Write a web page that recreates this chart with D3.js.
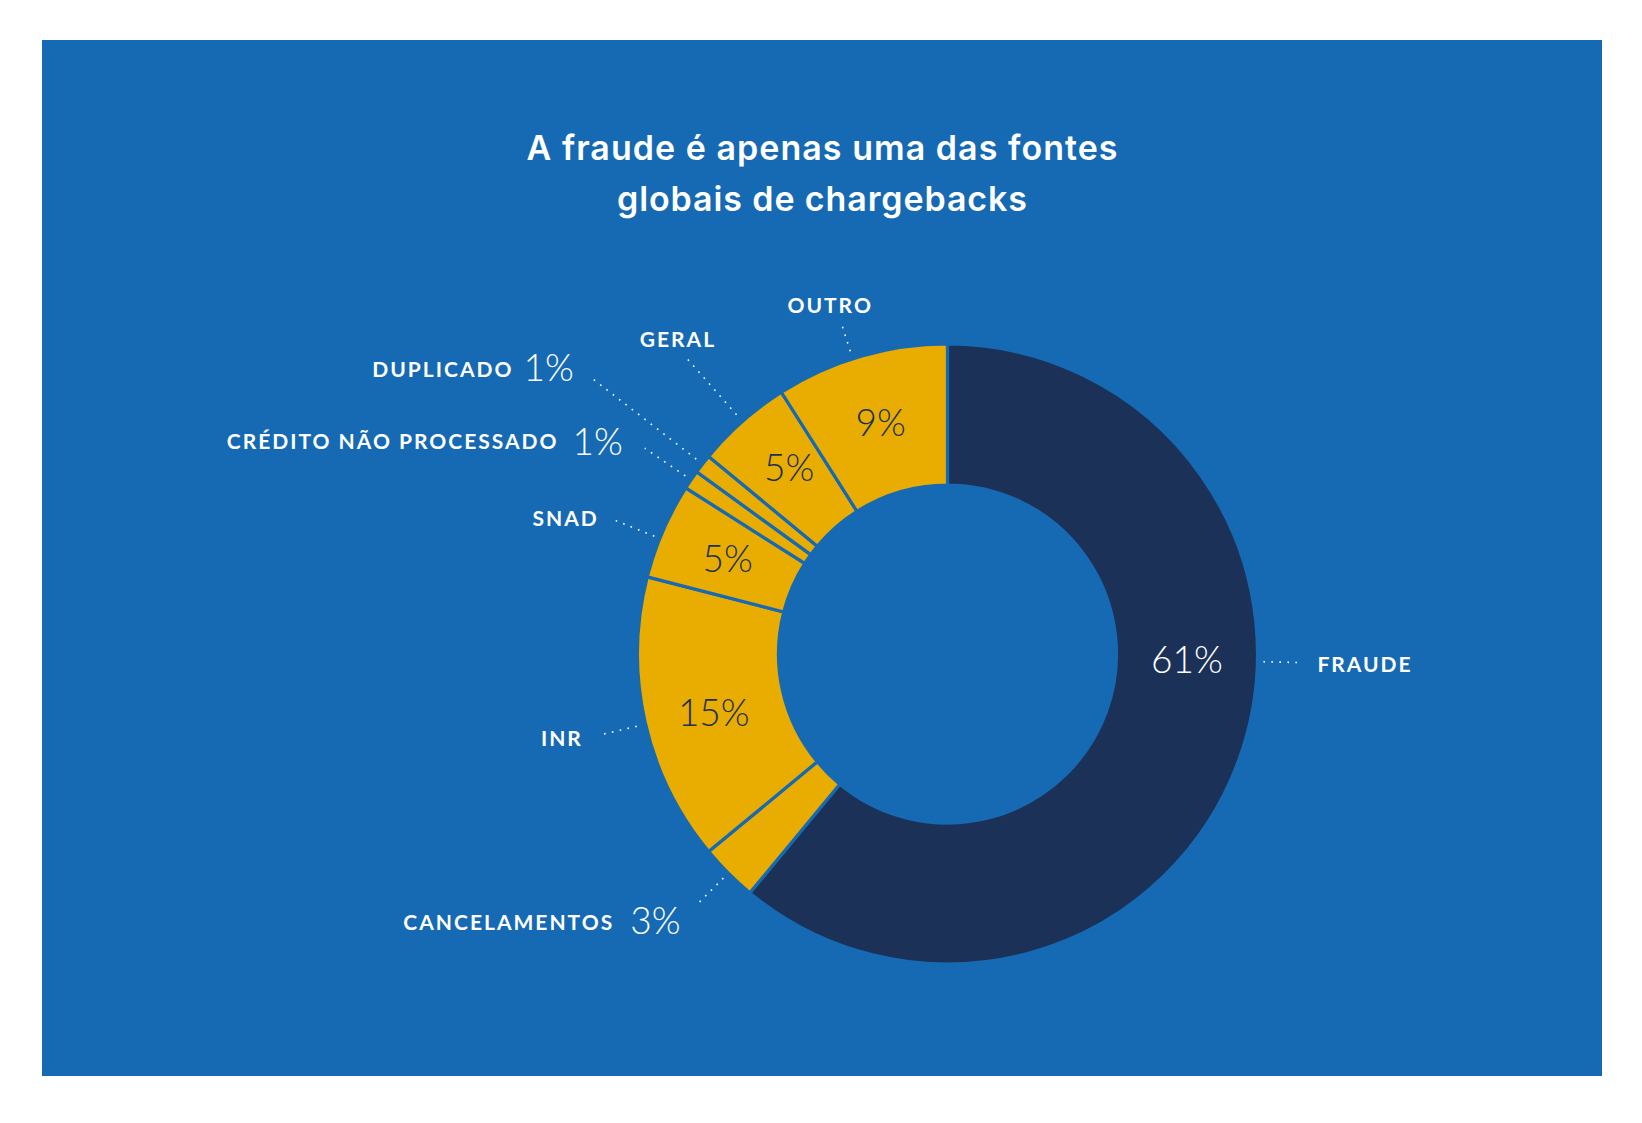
<!DOCTYPE html>
<html>
<head>
<meta charset="utf-8">
<script src="https://cdn.jsdelivr.net/npm/d3@7"></script>
<style>
  html, body { margin: 0; padding: 0; background: #ffffff; }
  svg { display: block; }
</style>
</head>
<body>
<svg id="chart" width="1642" height="1123"></svg>
<script>
// ---- data ----
const titleLines = ["A fraude é apenas uma das fontes", "globais de chargebacks"];
const categories = ["FRAUDE", "CANCELAMENTOS", "INR", "SNAD", "CRÉDITO NÃO PROCESSADO", "DUPLICADO", "GERAL", "OUTRO"];
const values = [61, 3, 15, 5, 1, 1, 5, 9];
const percentLabels = ["61%", "3%", "15%", "5%", "1%", "1%", "5%", "9%"];

// ---- style / layout ----
const W = 1642, H = 1123;
const BG = "#166AB3", NAVY = "#1B3157", YELLOW = "#E9AC00";
const cx = 947.5, cy = 654, R = 310, r = 169;
const titleWidths = [591, 410];
const sliceColor = i => i === 0 ? NAVY : YELLOW;
const deg = Math.PI / 180;
// label placement per slice: leader radii/angle shift, whether percent is inside, text offsets
const layout = [
  { angleShift: -18.4 * deg, numShift: -18.4 * deg, lead: [316, 355], inside: true, numColor: "#ffffff", anchor: "start", dx: 15, dy: 9 },
  { lead: [317, 355], inside: false, anchor: "end", dx: -16, dy: 29, labelDy: -4, gap: 18 },
  { angleShift: -0.5 * deg, lead: [319, 358], inside: true, numDy: 6, anchor: "end", dx: -18, dy: 11 },
  { angleShift: -1.5 * deg, lead: [316, 363], inside: true, anchor: "end", dx: -14, dy: 7 },
  { lead: [317, 366], inside: false, anchor: "end", dx: -22, dy: 7, labelDy: -6, gap: 16 },
  { lead: [318, 449], inside: false, anchor: "end", dx: -19, dy: 2, labelDy: -4, gap: 12 },
  { lead: [319, 394], inside: true, numDy: -7, anchor: "middle", dx: -9, dy: -11 },
  { angleShift: -1.6 * deg, lead: [318, 348], inside: true, numDy: -2, anchor: "middle", dx: -11, dy: -10 }
];

const svg = d3.select("#chart");
svg.append("rect").attr("x", 42).attr("y", 40).attr("width", 1560).attr("height", 1036).attr("fill", BG);

// title
svg.append("g").selectAll("text").data(titleLines).join("text")
  .attr("x", 822).attr("y", (d, i) => 160 + i * 51)
  .attr("text-anchor", "middle")
  .attr("fill", "#ffffff")
  .attr("font-family", "Inter, Lato, sans-serif")
  .attr("font-weight", 600)
  .attr("font-size", 34)
  .attr("textLength", (d, i) => titleWidths[i])
  .attr("lengthAdjust", "spacing")
  .text(d => d);

const pie = d3.pie().sort(null).value(d => d).startAngle(0).endAngle(2 * Math.PI);
const arcs = pie(values);
const arc = d3.arc().innerRadius(r).outerRadius(R);

const g = svg.append("g").attr("transform", `translate(${cx},${cy})`);
g.selectAll("path").data(arcs).join("path")
  .attr("d", arc)
  .attr("fill", (d, i) => sliceColor(i))
  .attr("stroke", BG)
  .attr("stroke-width", 3.2)
  .attr("stroke-linejoin", "miter");

const pt = (a, rad) => [rad * Math.sin(a), -rad * Math.cos(a)];
const mid = d => (d.startAngle + d.endAngle) / 2;

const pctFont = "Lato, 'Open Sans', sans-serif";
const labelSize = 21, labelSpacing = 2.0, numSize = 37;

arcs.forEach((d, i) => {
  const L = layout[i];
  const a = mid(d) + (L.angleShift || 0);
  // leader
  const p0 = pt(a, L.lead[0]), p1 = pt(a, L.lead[1]);
  g.append("line")
    .attr("x1", p0[0]).attr("y1", p0[1]).attr("x2", p1[0]).attr("y2", p1[1])
    .attr("stroke", "#ffffff").attr("stroke-width", 1.6)
    .attr("stroke-dasharray", "1.6 6.4");

  if (L.inside) {
    const c = pt(mid(d) + (L.numShift || 0), (r + R) / 2);
    g.append("text")
      .attr("x", c[0]).attr("y", c[1] + 13.5 + (L.numDy || 0))
      .attr("text-anchor", "middle")
      .attr("fill", L.numColor || NAVY)
      .attr("font-family", pctFont).attr("font-weight", 300).attr("font-size", numSize)
      .text(percentLabels[i]);
    g.append("text")
      .attr("x", p1[0] + L.dx + (L.anchor === "end" ? labelSpacing : 0)).attr("y", p1[1] + L.dy)
      .attr("text-anchor", L.anchor)
      .attr("fill", "#ffffff")
      .attr("font-family", pctFont).attr("font-weight", 700).attr("font-size", labelSize)
      .attr("letter-spacing", labelSpacing)
      .text(categories[i]);
  } else {
    const num = g.append("text")
      .attr("x", p1[0] + L.dx).attr("y", p1[1] + L.dy)
      .attr("text-anchor", "end")
      .attr("fill", "#ffffff")
      .attr("font-family", pctFont).attr("font-weight", 300).attr("font-size", numSize)
      .text(percentLabels[i]);
    const w = num.node().getComputedTextLength();
    g.append("text")
      .attr("x", p1[0] + L.dx - w - L.gap + labelSpacing).attr("y", p1[1] + L.dy + L.labelDy)
      .attr("text-anchor", "end")
      .attr("fill", "#ffffff")
      .attr("font-family", pctFont).attr("font-weight", 700).attr("font-size", labelSize)
      .attr("letter-spacing", labelSpacing)
      .text(categories[i]);
  }
});
</script>
</body>
</html>
